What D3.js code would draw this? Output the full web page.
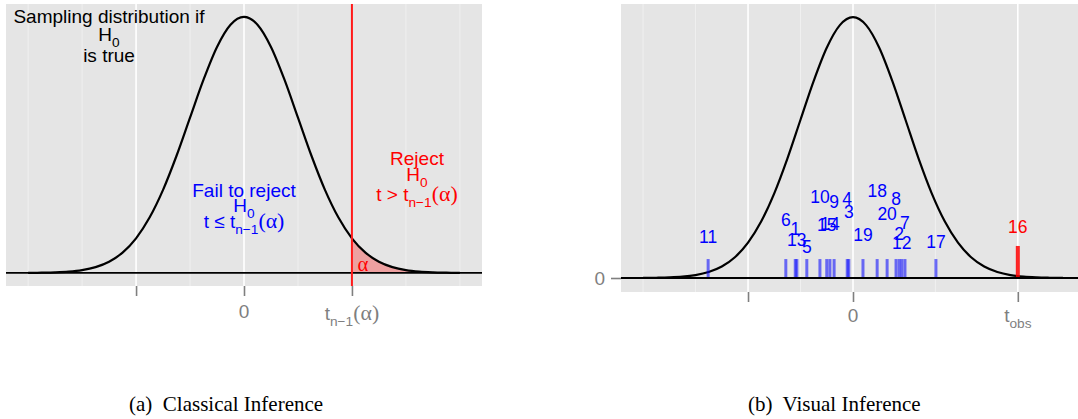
<!DOCTYPE html>
<html>
<head>
<meta charset="utf-8">
<script src="https://d3js.org/d3.v7.min.js"></script>
<style>
  body { margin: 0; background: #fff; }
  text { font-family: "Liberation Sans", Arial, Helvetica, sans-serif; }
  .caption { font-family: "Liberation Serif", "Times New Roman", serif; white-space: pre; }
</style>
</head>
<body>
<div id="chart"></div>
<script>
// density curve (standard bell, t units)
var curveX = [-4, -3.75, -3.5, -3.25, -3, -2.75, -2.5, -2.25, -2, -1.75, -1.5, -1.25, -1, -0.75, -0.5, -0.25,
              0, 0.25, 0.5, 0.75, 1, 1.25, 1.5, 1.75, 2, 2.25, 2.5, 2.75, 3, 3.25, 3.5, 3.75, 4];
var curveY = [0.0001, 0.0004, 0.0009, 0.0020, 0.0044, 0.0091, 0.0175, 0.0317, 0.0540, 0.0863, 0.1295, 0.1826, 0.2420, 0.3011, 0.3521, 0.3867,
              0.3989, 0.3867, 0.3521, 0.3011, 0.2420, 0.1826, 0.1295, 0.0863, 0.0540, 0.0317, 0.0175, 0.0091, 0.0044, 0.0020, 0.0009, 0.0004, 0.0001];

// panel (a)
var tCrit = 2;
var leftMajor = [-2, 0, 2];
var leftMinor = [-4, -3, -1, 1, 3, 4];

// panel (b): null plot statistics, id 16 is the observed one
var plotIds = [1, 2, 3, 4, 5, 6, 7, 8, 9, 10, 11, 12, 13, 14, 15, 16, 17, 18, 19, 20];
var plotT = [-1.10, 0.88, -0.08, -0.11, -0.88, -1.28, 0.99, 0.82, -0.36, -0.63,
             -2.76, 0.93, -1.07, -0.44, -0.50, 3.14, 1.58, 0.46, 0.19, 0.65];
var labelY = [0.075, 0.068, 0.102, 0.121, 0.048, 0.089, 0.084, 0.122, 0.117, 0.125,
              0.063, 0.054, 0.058, 0.083, 0.082, 0.079, 0.056, 0.134, 0.066, 0.099];
var obsId = 16;
var tObs = 3.14;
var rightMajor = [-2, 0, tObs];
var rightMinor = [-4, -3, -1, 1.57];

var W = 1078, H = 419;
var svg = d3.select("#chart").append("svg")
    .attr("width", W)
    .attr("height", H);

var pts = curveX.map(function (x, i) { return { x: x, y: curveY[i] }; });

// text with plotmath-like subscripts, parts = [[string, kind], ...]
// kind 0 = normal, 1 = subscript, 2 = "(alpha)" in a symbol-like face
function mathText(g, x, y, parts, color, size, anchor) {
    var t = g.append("text")
        .attr("x", x).attr("y", y)
        .attr("text-anchor", anchor || "middle")
        .attr("fill", color)
        .style("font-size", size + "px");
    var cur = 0;
    parts.forEach(function (p) {
        var want = p[1] === 1 ? size * 0.3 : 0;
        var ts = t.append("tspan").text(p[0]).attr("dy", want - cur);
        if (p[1] === 1) ts.style("font-size", (size * 0.72) + "px");
        if (p[1] === 2) ts.style("font-size", (size * 1.15) + "px")
            .style("font-family", "'Liberation Serif', 'Times New Roman', serif");
        cur = want;
    });
    return t;
}

function drawGrid(g, x, y, major, minor) {
    var r = y.range();
    g.append("rect")
        .attr("x", x.range()[0]).attr("y", r[1])
        .attr("width", x.range()[1] - x.range()[0])
        .attr("height", r[0] - r[1])
        .attr("fill", "#e5e5e5");
    g.selectAll(".minor").data(minor).enter().append("line")
        .attr("x1", function (d) { return x(d); }).attr("x2", function (d) { return x(d); })
        .attr("y1", r[0]).attr("y2", r[1])
        .attr("stroke", "#f2f2f2").attr("stroke-width", 0.8);
    g.selectAll(".major").data(major).enter().append("line")
        .attr("x1", function (d) { return x(d); }).attr("x2", function (d) { return x(d); })
        .attr("y1", r[0]).attr("y2", r[1])
        .attr("stroke", "#ffffff").attr("stroke-width", 1.6);
}

function drawAxis(g, x, y, ticks) {
    var ax = g.append("g")
        .attr("transform", "translate(0," + y.range()[0] + ")")
        .call(d3.axisBottom(x).tickValues(ticks).tickSize(10).tickFormat(""));
    ax.select(".domain").remove();
    ax.selectAll(".tick line").attr("stroke", "#7f7f7f").attr("stroke-width", 1.6);
}

var line = function (x, y) {
    return d3.line().x(function (d) { return x(d.x); }).y(function (d) { return y(d.y); })
        .curve(d3.curveMonotoneX);
};

// ---------- panel (a) Classical Inference ----------
var xL = d3.scaleLinear().domain([-4.41, 4.41]).range([6, 482]);
var yL = d3.scaleLinear().domain([-0.0203, 0.419]).range([286, 4]);
var gL = svg.append("g");

drawGrid(gL, xL, yL, leftMajor, leftMinor);

gL.append("path")
    .datum(pts.filter(function (d) { return d.x >= tCrit; }))
    .attr("fill", "rgba(255,0,0,0.3)")
    .attr("d", d3.area().x(function (d) { return xL(d.x); })
        .y0(yL(0)).y1(function (d) { return yL(d.y); })
        .curve(d3.curveMonotoneX));

gL.append("path").datum(pts)
    .attr("fill", "none").attr("stroke", "#000").attr("stroke-width", 2.2)
    .attr("d", line(xL, yL));

gL.append("line")
    .attr("x1", xL.range()[0]).attr("x2", xL.range()[1])
    .attr("y1", yL(0)).attr("y2", yL(0))
    .attr("stroke", "#000").attr("stroke-width", 1.8);

drawAxis(gL, xL, yL, leftMajor);

gL.append("line")
    .attr("x1", xL(tCrit)).attr("x2", xL(tCrit))
    .attr("y1", yL.range()[1]).attr("y2", yL.range()[0])
    .attr("stroke", "#ff1a1a").attr("stroke-width", 2);

mathText(gL, xL(0), 318, [["0", 0]], "#7f7f7f", 19);
mathText(gL, xL(tCrit), 320, [["t", 0], ["n\u22121", 1], ["(\u03b1)", 2]], "#7f7f7f", 19);

mathText(gL, 109, 23, [["Sampling distribution if", 0]], "#000", 19);
mathText(gL, 109, 41, [["H", 0], ["0", 1]], "#000", 19);
mathText(gL, 109, 62, [["is true", 0]], "#000", 19);

mathText(gL, xL(0), 197, [["Fail to reject", 0]], "#0000ff", 19);
mathText(gL, xL(0), 212, [["H", 0], ["0", 1]], "#0000ff", 19);
mathText(gL, xL(0), 228, [["t \u2264 t", 0], ["n\u22121", 1], ["(\u03b1)", 2]], "#0000ff", 19);

mathText(gL, 417, 165, [["Reject", 0]], "#ff0000", 19);
mathText(gL, 417, 181, [["H", 0], ["0", 1]], "#ff0000", 19);
mathText(gL, 417, 201, [["t > t", 0], ["n\u22121", 1], ["(\u03b1)", 2]], "#ff0000", 19);

mathText(gL, xL(tCrit) + 11, 271, [["\u03b1", 2]], "#ff0000", 18);

// ---------- panel (b) Visual Inference ----------
var xR = d3.scaleLinear().domain([-4.42, 4.42]).range([621, 1085]);
var yR = d3.scaleLinear().domain([-0.0214, 0.419]).range([292, 4]);
var gR = svg.append("g");

drawGrid(gR, xR, yR, rightMajor, rightMinor);

gR.append("path").datum(pts)
    .attr("fill", "none").attr("stroke", "#000").attr("stroke-width", 2.2)
    .attr("d", line(xR, yR));

// rug of the 20 plot statistics
gR.selectAll(".rug").data(plotIds).enter().append("line")
    .attr("x1", function (d, i) { return xR(plotT[i]); })
    .attr("x2", function (d, i) { return xR(plotT[i]); })
    .attr("y1", yR(0))
    .attr("y2", function (d) { return d === obsId ? yR(0.049) : yR(0.029); })
    .attr("stroke", function (d) { return d === obsId ? "rgba(255,0,0,0.85)" : "rgba(0,0,255,0.55)"; })
    .attr("stroke-width", function (d) { return d === obsId ? 4 : 3; });

gR.append("line")
    .attr("x1", xR.range()[0]).attr("x2", xR.range()[1])
    .attr("y1", yR(0)).attr("y2", yR(0))
    .attr("stroke", "#000").attr("stroke-width", 1.8);

gR.selectAll(".lab").data(plotIds).enter().append("text")
    .attr("x", function (d, i) { return xR(plotT[i]); })
    .attr("y", function (d, i) { return yR(labelY[i]); })
    .attr("dy", "0.36em")
    .attr("text-anchor", "middle")
    .attr("fill", function (d) { return d === obsId ? "#ff0000" : "#0000ff"; })
    .style("font-size", "17.5px")
    .text(function (d) { return d; });

drawAxis(gR, xR, yR, rightMajor);

// y axis: only the zero tick
var ay = gR.append("g")
    .attr("transform", "translate(" + xR.range()[0] + ",0)")
    .call(d3.axisLeft(yR).tickValues([0]).tickSize(10).tickPadding(6).tickFormat(d3.format("d")));
ay.select(".domain").remove();
ay.selectAll(".tick line").attr("stroke", "#7f7f7f").attr("stroke-width", 1.6);
ay.selectAll(".tick text").attr("fill", "#7f7f7f").style("font-size", "19px")
    .style("font-family", "'Liberation Sans', Arial, sans-serif");

mathText(gR, xR(0), 322, [["0", 0]], "#7f7f7f", 19);
mathText(gR, xR(tObs), 322, [["t", 0], ["obs", 1]], "#7f7f7f", 19);

// captions
svg.append("text").attr("class", "caption")
    .attr("x", 129).attr("y", 411)
    .style("font-size", "21px")
    .text("(a)  Classical Inference");
svg.append("text").attr("class", "caption")
    .attr("x", 748).attr("y", 411)
    .style("font-size", "21px")
    .text("(b)  Visual Inference");
</script>
</body>
</html>
